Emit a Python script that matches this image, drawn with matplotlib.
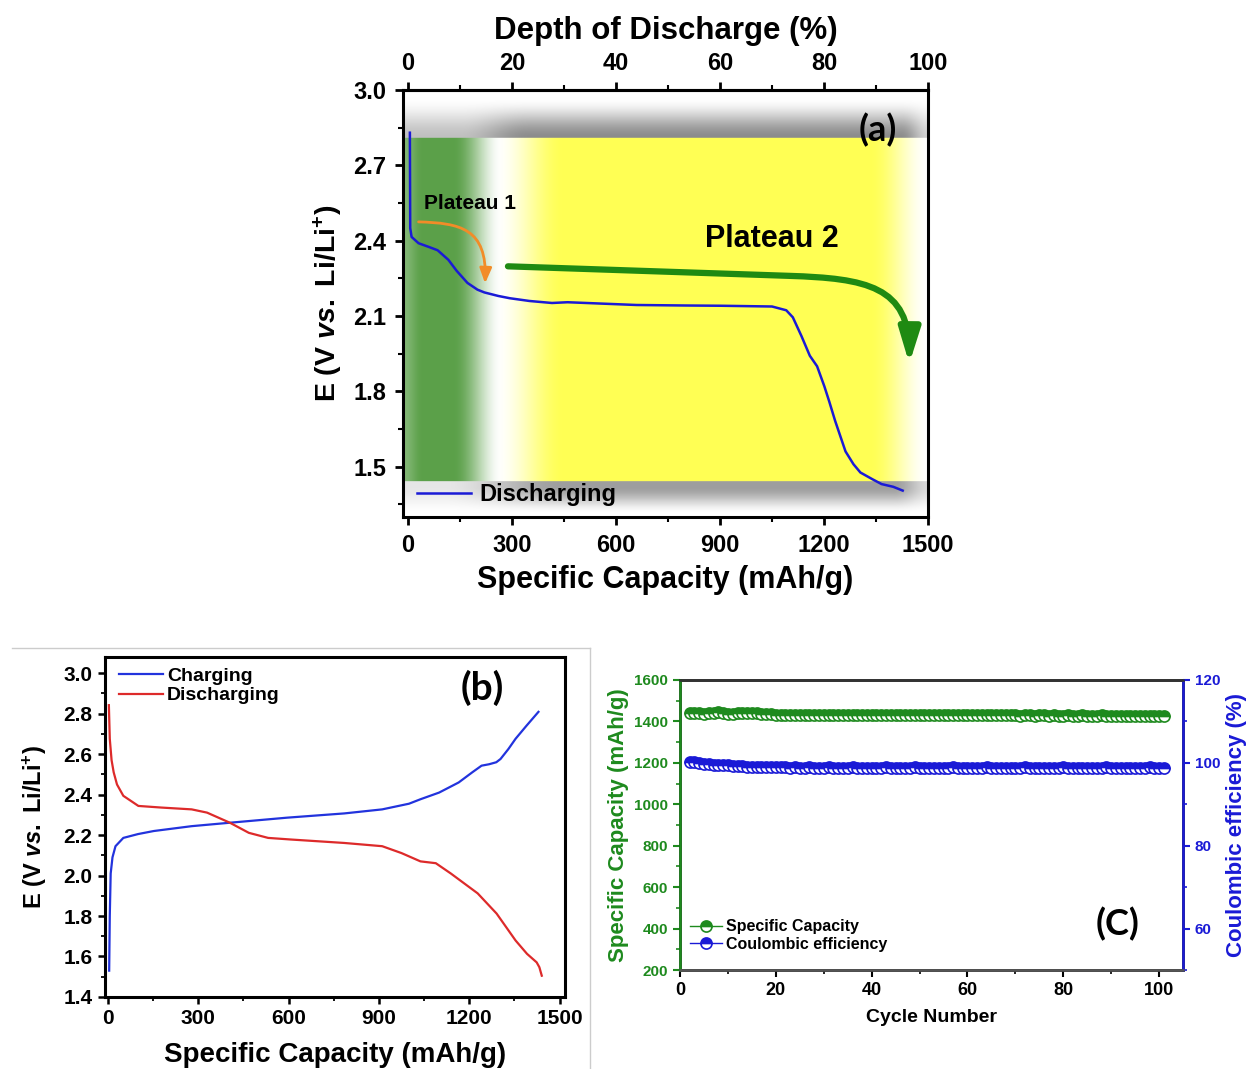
import numpy as np
import matplotlib
matplotlib.use('Agg')
import matplotlib.pyplot as plt
from matplotlib.patches import FancyArrowPatch
from matplotlib.path import Path
from matplotlib.lines import Line2D
from matplotlib.ticker import MultipleLocator

plt.rcParams['font.family'] = ['Liberation Sans', 'DejaVu Sans']
plt.rcParams['font.weight'] = 'bold'
plt.rcParams['mathtext.fontset'] = 'custom'
plt.rcParams['mathtext.rm'] = 'Liberation Sans:bold'
plt.rcParams['mathtext.it'] = 'Liberation Sans:italic:bold'
plt.rcParams['mathtext.default'] = 'rm'

# ---- data: panel (a) first discharge ----
cap_a = [5, 6, 10, 30, 60, 85, 116, 140, 171, 200, 220, 260, 293, 350, 415, 460,
         550, 659, 800, 902, 1050, 1091, 1110, 1135, 1159, 1180, 1201, 1215, 1232,
         1262, 1285, 1305, 1340, 1366, 1400, 1427]
volt_a = [2.83, 2.45, 2.415, 2.39, 2.375, 2.362, 2.324, 2.28, 2.232, 2.205, 2.194,
          2.18, 2.171, 2.16, 2.152, 2.155, 2.150, 2.144, 2.142, 2.141, 2.138, 2.123,
          2.095, 2.02, 1.942, 1.90, 1.82, 1.76, 1.683, 1.561, 1.51, 1.477, 1.45,
          1.431, 1.42, 1.405]

# ---- data: panel (b) charge / discharge ----
cap_chg = [4, 6, 9, 15, 25, 51, 100, 152, 278, 405, 595, 785, 911, 1000, 1038, 1100,
           1165, 1210, 1241, 1266, 1290, 1304, 1330, 1354, 1390, 1430]
volt_chg = [1.53, 1.80, 2.01, 2.09, 2.145, 2.186, 2.205, 2.22, 2.244, 2.261, 2.286,
            2.307, 2.327, 2.355, 2.377, 2.41, 2.46, 2.51, 2.543, 2.55, 2.56, 2.576,
            2.625, 2.676, 2.74, 2.809]
cap_dis = [3, 6, 12, 19, 30, 51, 101, 177, 278, 329, 405, 468, 532, 608, 785, 911,
           975, 1038, 1089, 1139, 1228, 1291, 1354, 1392, 1424, 1433, 1441]
volt_dis = [2.842, 2.676, 2.57, 2.51, 2.45, 2.394, 2.344, 2.336, 2.327, 2.311, 2.261,
            2.211, 2.186, 2.178, 2.161, 2.145, 2.111, 2.07, 2.061, 2.01, 1.912, 1.812,
            1.679, 1.613, 1.571, 1.547, 1.505]

# ---- data: panel (c) cycling ----
capacity = [1440, 1443, 1441, 1438, 1442, 1440, 1444, 1441, 1437, 1434,
            1439, 1441, 1443, 1440, 1442, 1438, 1436, 1434, 1433, 1433,
            1432, 1433, 1432, 1432, 1433, 1432, 1431, 1432, 1432, 1431,
            1432, 1431, 1431, 1432, 1431, 1431, 1430, 1431, 1431, 1430,
            1431, 1430, 1431, 1430, 1430, 1431, 1430, 1430, 1430, 1431,
            1430, 1430, 1429, 1430, 1430, 1429, 1430, 1430, 1429, 1430,
            1429, 1429, 1430, 1429, 1429, 1430, 1429, 1429, 1429, 1428,
            1429, 1429, 1428, 1429, 1429, 1428, 1429, 1428, 1428, 1429,
            1428, 1428, 1429, 1428, 1428, 1428, 1429, 1428, 1428, 1428,
            1427, 1428, 1428, 1427, 1428, 1428, 1427, 1428, 1427, 1428]
coulombic = [100.3, 100.2, 100.0, 99.8, 99.7, 99.6, 99.5, 99.4, 99.4, 99.3,
             99.2, 99.2, 99.1, 99.1, 99.0, 99.0, 98.9, 98.9, 98.9, 98.9,
             98.9, 98.8, 98.9, 98.8, 98.8, 98.9, 98.8, 98.8, 98.8, 98.9,
             98.8, 98.8, 98.8, 98.8, 98.9, 98.8, 98.8, 98.8, 98.8, 98.8,
             98.8, 98.9, 98.8, 98.8, 98.8, 98.8, 98.8, 98.9, 98.8, 98.8,
             98.8, 98.8, 98.8, 98.8, 98.8, 98.9, 98.8, 98.8, 98.8, 98.8,
             98.8, 98.8, 98.9, 98.8, 98.8, 98.8, 98.8, 98.8, 98.8, 98.8,
             98.9, 98.8, 98.8, 98.8, 98.8, 98.8, 98.8, 98.8, 98.9, 98.8,
             98.8, 98.8, 98.8, 98.8, 98.8, 98.8, 98.8, 98.9, 98.8, 98.8,
             98.8, 98.8, 98.8, 98.8, 98.8, 98.8, 98.9, 98.8, 98.8, 98.8]
cycles = np.arange(2, 2 + len(capacity))

fig = plt.figure(figsize=(12.51, 10.69), dpi=100)

# ================= panel (a) =================
ax = fig.add_axes([0.3221, 0.5164, 0.4197, 0.3994])
xlo, xhi, ylo, yhi = -15, 1500, 1.3, 3.0


def smooth(t, a, b):
    s = np.clip((t - a) / (b - a), 0, 1)
    return s * s * (3 - 2 * s)


# soft background: green plateau-1 zone, yellow plateau-2 zone, gray shadows
gx = np.linspace(xlo, xhi, 700)
gv = np.linspace(ylo, yhi, 500)
X, V = np.meshgrid(gx, gv)
green = np.array([0.36, 0.63, 0.29])
yellow = np.array([1.0, 1.0, 0.33])
wg = (0.75 + 0.25 * smooth(X, -15, 40)) * (1 - smooth(X, 130, 270))
wy = smooth(X, 250, 450) * (1 - smooth(X, 1330, 1500))
img = np.ones(X.shape + (3,))
img = img * (1 - wg - wy)[..., None] + wg[..., None] * green + wy[..., None] * yellow
band = (V >= 1.44) & (V <= 2.81)
top_dark = 0.45 * (1 - smooth(V, 2.81, 2.97)) * (0.55 + 0.45 * smooth(X, 150, 350)) \
    * (1 - 0.6 * smooth(X, 1420, 1500))
bot_dark = 0.38 * (1 - smooth(1.44 - V, 0.02, 0.13)) * (0.25 + 0.75 * smooth(X, 100, 450)) \
    * (1 - 0.6 * smooth(X, 1400, 1500))
gray = 1 - np.where(V > 2.81, top_dark, bot_dark)
img = np.where(band[..., None], img, np.repeat(gray[..., None], 3, axis=2))
ax.imshow(img, extent=[xlo, xhi, ylo, yhi], origin='lower', aspect='auto',
          interpolation='bilinear', zorder=0)

ax.plot(cap_a, volt_a, color='#1a1ad6', lw=1.8, label='Discharging', zorder=3)
ax.set_xlim(xlo, xhi)
ax.set_ylim(ylo, yhi)
ax.set_xticks([0, 300, 600, 900, 1200, 1500])
ax.set_yticks([1.5, 1.8, 2.1, 2.4, 2.7, 3.0])
ax.xaxis.set_minor_locator(MultipleLocator(150))
ax.yaxis.set_minor_locator(MultipleLocator(0.15))
ax.tick_params(which='major', direction='out', length=6, width=2, labelsize=17, pad=6)
ax.tick_params(which='minor', direction='out', length=3.5, width=1.5)
for s in ax.spines.values():
    s.set_linewidth(2.2)
ax.set_xlabel('Specific Capacity (mAh/g)', fontsize=22, fontweight='bold', labelpad=6)
ax.set_ylabel(r'E (V $\mathit{vs.}$ Li/Li$^{+}$)', fontsize=20.5, fontweight='bold', labelpad=6)

top = ax.secondary_xaxis('top', functions=(lambda c: c / 15.0, lambda d: d * 15.0))
top.set_xticks([0, 20, 40, 60, 80, 100])
top.xaxis.set_minor_locator(MultipleLocator(10))
top.tick_params(which='major', direction='out', length=6, width=2, labelsize=17, pad=5)
top.tick_params(which='minor', direction='out', length=3.5, width=1.5)
top.spines['top'].set_linewidth(2.2)
top.set_xlabel('Depth of Discharge (%)', fontsize=22.5, fontweight='bold', labelpad=9)

ax.text(46, 2.55, 'Plateau 1', fontsize=15, fontweight='bold', va='center', ha='left', zorder=4)
ax.text(1050, 2.405, 'Plateau 2', fontsize=22, fontweight='bold', va='center', ha='center', zorder=4)
ax.text(1355, 2.84, '(a)', fontsize=26, fontweight='bold', family='Lato', va='center',
        ha='center', zorder=4)

orange_path = Path([(30, 2.475), (150, 2.47), (228, 2.45), (222, 2.23)],
                   [Path.MOVETO, Path.CURVE4, Path.CURVE4, Path.CURVE4])
ax.add_patch(FancyArrowPatch(path=orange_path, arrowstyle='-|>,head_length=0.5,head_width=0.2',
                             mutation_scale=18, lw=2, color='#f28c28', zorder=4,
                             shrinkA=0, shrinkB=0))
green_path = Path([(288, 2.298), (1100, 2.26), (1320, 2.25), (1448, 2.22), (1446, 1.91)],
                  [Path.MOVETO, Path.LINETO, Path.CURVE4, Path.CURVE4, Path.CURVE4])
ax.add_patch(FancyArrowPatch(path=green_path, arrowstyle='-|>,head_length=0.65,head_width=0.2',
                             mutation_scale=32, lw=4.5, color='#1f8a12', zorder=4,
                             shrinkA=0, shrinkB=0))

ax.legend(loc='lower left', frameon=False, fontsize=17, handlelength=2.3,
          handletextpad=0.35, borderaxespad=0.2, bbox_to_anchor=(0.0, -0.008))

# ================= panel (b) =================
axb = fig.add_axes([0.0839, 0.0674, 0.3677, 0.3180])
axb.plot(cap_chg, volt_chg, color='#2233dd', lw=1.6, label='Charging')
axb.plot(cap_dis, volt_dis, color='#dd2a2a', lw=1.6, label='Discharging')
axb.set_xlim(-10, 1518)
axb.set_ylim(1.4, 3.08)
axb.set_xticks([0, 300, 600, 900, 1200, 1500])
axb.set_yticks([1.4, 1.6, 1.8, 2.0, 2.2, 2.4, 2.6, 2.8, 3.0])
axb.xaxis.set_minor_locator(MultipleLocator(150))
axb.yaxis.set_minor_locator(MultipleLocator(0.1))
axb.tick_params(which='major', direction='out', length=5, width=1.8, labelsize=15, pad=4)
axb.tick_params(which='minor', direction='out', length=3, width=1.3)
for s in axb.spines.values():
    s.set_linewidth(2.2)
axb.set_xlabel('Specific Capacity (mAh/g)', fontsize=20, fontweight='bold', labelpad=10)
axb.set_ylabel(r'E (V $\mathit{vs.}$ Li/Li$^{+}$)', fontsize=17, fontweight='bold', labelpad=10)
axb.text(0.82, 0.91, '(b)', transform=axb.transAxes, fontsize=28, fontweight='bold',
         family='Lato', ha='center', va='center')
axb.legend(loc='upper left', frameon=False, fontsize=14, handlelength=2.3,
           handletextpad=0.2, labelspacing=0.1, borderaxespad=0.3, bbox_to_anchor=(0.0, 1.01))

# light frame around panel (b)
fig.add_artist(Line2D([12 / 1251, 590 / 1251], [1 - 648 / 1069] * 2, color='#cccccc', lw=1))
fig.add_artist(Line2D([590 / 1251] * 2, [1 - 648 / 1069, 0], color='#cccccc', lw=1))

# ================= panel (c) =================
cgreen = '#1e8a1e'
cblue = '#1a1ad6'
axc = fig.add_axes([0.5436, 0.0926, 0.4021, 0.2713])
axr = axc.twinx()
h1, = axc.plot(cycles, capacity, '-o', color=cgreen, ms=8, mew=1.2, lw=1,
               fillstyle='top', markerfacecoloralt='white', label='Specific Capacity')
h2, = axr.plot(cycles, coulombic, '-o', color=cblue, ms=8, mew=1.2, lw=1,
               fillstyle='top', markerfacecoloralt='white', label='Coulombic efficiency')
axc.set_xlim(0, 105)
axc.set_ylim(200, 1600)
axr.set_ylim(50, 120)
axc.set_xticks([0, 20, 40, 60, 80, 100])
axc.xaxis.set_minor_locator(MultipleLocator(10))
axc.set_yticks(range(200, 1601, 200))
axc.yaxis.set_minor_locator(MultipleLocator(100))
axr.set_yticks([60, 80, 100, 120])
axr.yaxis.set_minor_locator(MultipleLocator(10))
axc.tick_params(axis='x', which='major', direction='out', length=5, width=1.5, labelsize=13)
axc.tick_params(axis='x', which='minor', direction='out', length=3, width=1.2)
axc.tick_params(axis='y', which='major', direction='out', length=5, width=1.5, labelsize=11,
                colors=cgreen)
axc.tick_params(axis='y', which='minor', direction='out', length=3, width=1.2, colors=cgreen)
axr.tick_params(axis='y', which='major', direction='out', length=5, width=1.5, labelsize=11,
                colors=cblue)
axr.tick_params(axis='y', which='minor', direction='out', length=3, width=1.2, colors=cblue)
for s in list(axc.spines.values()) + list(axr.spines.values()):
    s.set_linewidth(1.8)
axr.spines['left'].set_color(cgreen)
axr.spines['right'].set_color(cblue)
axr.spines['top'].set_color('#333333')
axr.spines['bottom'].set_color('#555555')
axc.set_xlabel('Cycle Number', fontsize=14, fontweight='bold', labelpad=7)
axc.set_ylabel('Specific Capacity (mAh/g)', fontsize=16, fontweight='bold', color=cgreen,
               labelpad=4)
axr.set_ylabel('Coulombic efficiency (%)', fontsize=16, fontweight='bold', color=cblue,
               labelpad=4)
axr.text(0.87, 0.16, '(C)', transform=axc.transAxes, fontsize=26, family='Lato',
         fontweight='bold', ha='center', va='center')
axr.legend(handles=[h1, h2], loc='lower left', frameon=False, fontsize=11.5,
           handlelength=2.0, handletextpad=0.3, labelspacing=0.15,
           borderaxespad=0.2, bbox_to_anchor=(0.0, 0.03))

fig.savefig('out.png', dpi=100)
